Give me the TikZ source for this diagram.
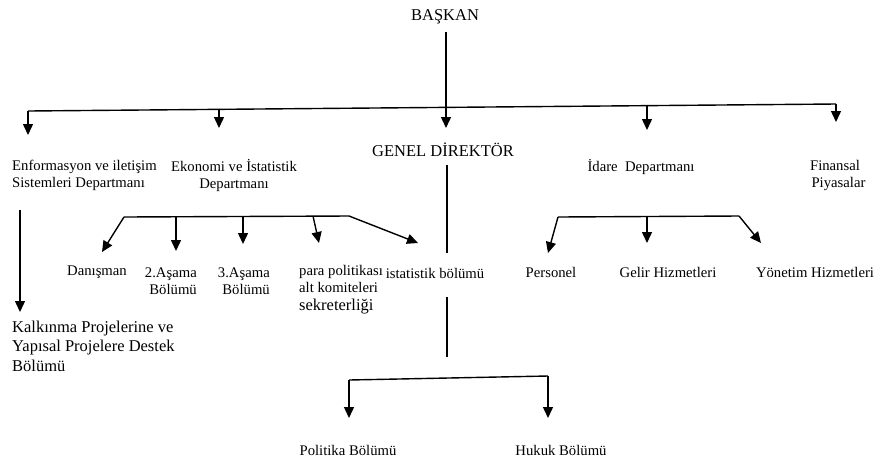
\documentclass[tikz,border=0pt]{standalone}
\usepackage{fontspec}
\setmainfont{Liberation Serif}
\usetikzlibrary{arrows.meta}
\tikzset{
  lbl/.style={inner sep=0pt, font=\fontsize{14.7}{17}\selectfont},
  big/.style={inner sep=0pt, font=\fontsize{16.5}{19.5}\selectfont},
  ln/.style={line width=1.4pt},
  arr/.style={line width=1.4pt, -{Triangle[width=10pt,length=11pt]}}
}
\begin{document}
\begin{tikzpicture}[x=1pt,y=-1pt]
\useasboundingbox (0,0) rectangle (875,459);
% nodes
\node[big] (bas) at (445,17) {BAŞKAN};
\node[big] (gd) at (443,150) {GENEL DİREKTÖR};
\node[lbl,anchor=west,align=left] (enf) at (12,175) {Enformasyon ve iletişim\\Sistemleri Departmanı};
\node[lbl,align=center] (eko) at (234,175) {Ekonomi ve İstatistik\\Departmanı};
\node[lbl] (ida) at (641,167) {İdare\ \ Departmanı};
\node[lbl,align=center] (fin) at (835,175) {Finansal\\\hspace*{7pt}Piyasalar};
\node[big,anchor=west,align=left] (kal) at (12,346) {Kalkınma Projelerine ve\\Yapısal Projelere Destek\\Bölümü};
\node[lbl] (dan) at (97,272) {Danışman};
\node[lbl,anchor=east,align=right] (a2) at (197,281) {2.Aşama\\Bölümü};
\node[lbl,anchor=east,align=right] (a3) at (270,281) {3.Aşama\\Bölümü};
\node[lbl,anchor=north west,align=left] (para) at (299,265) {para politikası\\alt komiteleri\\[1pt]{\fontsize{16.5}{18}\selectfont sekreterliği}};
\node[lbl] (ist) at (435,273) {istatistik bölümü};
\node[lbl] (per) at (551,272) {Personel};
\node[lbl] (gel) at (668,272) {Gelir Hizmetleri};
\node[lbl] (yon) at (815,272) {Yönetim Hizmetleri};
\node[lbl] (pol) at (348,450) {Politika Bölümü};
\node[lbl] (huk) at (561,450) {Hukuk Bölümü};
% coordinates
\coordinate (bl) at (28,111);
\coordinate (br) at (836,104);
\coordinate (j1) at (219,108.5);
\coordinate (j3) at (647,106);
\coordinate (eb1) at (124,217);
\coordinate (eb2) at (176,217);
\coordinate (eb3) at (243,216.5);
\coordinate (eb4) at (313,216);
\coordinate (eb5) at (349,216);
\coordinate (rb1) at (558,217);
\coordinate (rb2) at (647,217);
\coordinate (rb3) at (739,216);
\coordinate (gt) at (447,253);
\coordinate (gb1) at (447,297);
\coordinate (gb2) at (447,357);
\coordinate (hb1) at (349,380);
\coordinate (hb2) at (548,376);
% top level
\draw[arr] (446,32) -- (446,128);
\draw[ln] (bl) -- (br);
\draw[arr] (bl) -- (28,135);
\draw[arr] (j1) -- (219,128);
\draw[arr] (j3) -- (647,130);
\draw[arr] (br) -- (836,122);
% Enformasyon
\draw[arr] (20,210) -- (20,312);
% Ekonomi sub
\draw[ln] (eb1) -- (eb5);
\draw[arr] (eb1) -- (102,252);
\draw[arr] (eb2) -- (176,251);
\draw[arr] (eb3) -- (243,244);
\draw[arr] (eb4) -- (319,243);
\draw[arr] (eb5) -- (418,243);
% Idare sub
\draw[ln] (rb1) -- (rb3);
\draw[arr] (rb1) -- (548,253);
\draw[arr] (rb2) -- (647,243);
\draw[arr] (rb3) -- (761,243);
% Genel direktor
\draw[ln] (447,165) -- (gt);
\draw[ln] (gb1) -- (gb2);
\draw[ln] (hb1) -- (hb2);
\draw[arr] (hb1) -- (349,418);
\draw[arr] (hb2) -- (548,418);
\end{tikzpicture}
\end{document}
